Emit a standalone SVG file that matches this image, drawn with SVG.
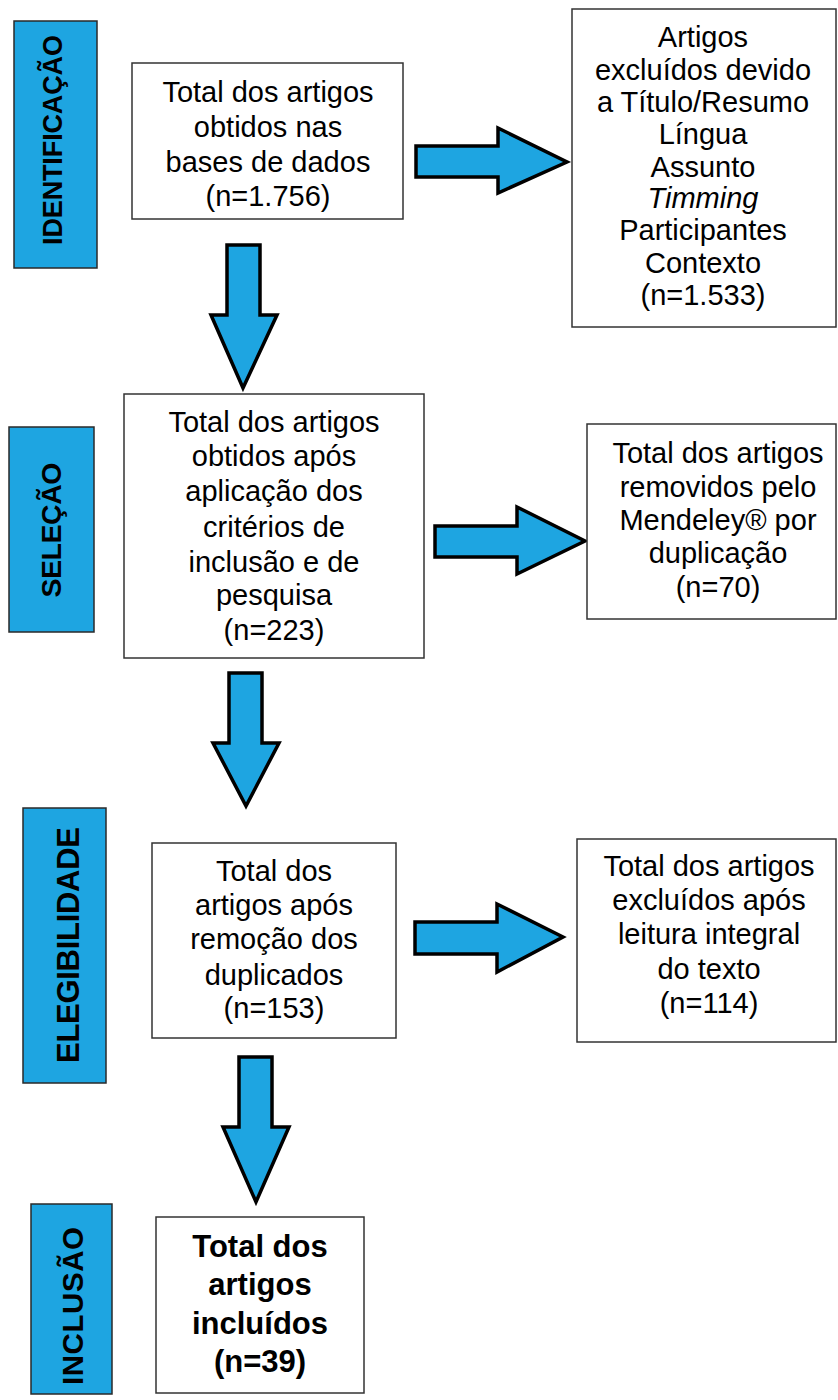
<svg xmlns="http://www.w3.org/2000/svg" width="838" height="1400" viewBox="0 0 838 1400">
<style>
.bg{fill:#ffffff}
.phase{fill:#1ea5e1;stroke:#2a2a2a;stroke-width:1.5}
.ph{font-family:"Liberation Sans",Arial,sans-serif;font-weight:bold;fill:#000;text-anchor:middle}
.box{fill:#ffffff;stroke:#333;stroke-width:1.5}
.t{font-family:"Liberation Sans",Arial,sans-serif;font-size:29px;fill:#000;text-anchor:middle}
.tb{font-family:"Liberation Sans",Arial,sans-serif;font-size:31px;font-weight:bold;fill:#000;text-anchor:middle}
.arrow{fill:#1ea5e1;stroke:#000;stroke-width:3.5;stroke-linejoin:miter}
</style>
<rect class="bg" x="0" y="0" width="838" height="1400"/>

<g id="phase-identificacao">
<rect class="phase" x="14" y="21" width="83" height="247"/>
<text class="ph" font-size="27" textLength="210" transform="translate(62,140) rotate(-90)">IDENTIFICAÇÃO</text>
</g>
<g id="phase-selecao">
<rect class="phase" x="9" y="427" width="85" height="205"/>
<text class="ph" font-size="28.5" textLength="135" transform="translate(61,530) rotate(-90)">SELEÇÃO</text>
</g>
<g id="phase-elegibilidade">
<rect class="phase" x="23" y="808" width="83" height="275"/>
<text class="ph" font-size="31" textLength="236" transform="translate(79,945) rotate(-90)">ELEGIBILIDADE</text>
</g>
<g id="phase-inclusao">
<rect class="phase" x="31" y="1204" width="81" height="190"/>
<text class="ph" font-size="29.5" textLength="158" transform="translate(83,1306) rotate(-90)">INCLUSÃO</text>
</g>

<g id="connectors">
<path class="arrow" d="M416,146 H498 V128 L567,162 L498,193 V177 H416 Z"/>
<path class="arrow" d="M435,526 H517 V507 L585,541 L517,574 V557 H435 Z"/>
<path class="arrow" d="M415,922 H497 V904 L563,937 L497,972 V954 H415 Z"/>
<path class="arrow" d="M227,245 H260 V315 H277 L243,388 L211,315 H227 Z"/>
<path class="arrow" d="M229,673 H262 V743 H279 L246,806 L213,743 H229 Z"/>
<path class="arrow" d="M239,1057 H272 V1127 H289 L256,1202 L223,1127 H239 Z"/>
</g>

<g id="box-total">
<rect class="box" x="132" y="63" width="271" height="156"/>
<text class="t" x="268" y="102">Total dos artigos</text>
<text class="t" x="268" y="137">obtidos nas</text>
<text class="t" x="268" y="172">bases de dados</text>
<text class="t" x="268" y="206">(n=1.756)</text>
</g>

<g id="box-excluidos-titulo">
<rect class="box" x="572" y="9" width="264" height="318"/>
<text class="t" x="703" y="47">Artigos</text>
<text class="t" x="703" y="80">excluídos devido</text>
<text class="t" x="703" y="112">a Título/Resumo</text>
<text class="t" x="703" y="144">Língua</text>
<text class="t" x="703" y="177">Assunto</text>
<text class="t" x="703" y="208" font-style="italic">Timming</text>
<text class="t" x="703" y="240">Participantes</text>
<text class="t" x="703" y="273">Contexto</text>
<text class="t" x="703" y="305">(n=1.533)</text>
</g>

<g id="box-selecao">
<rect class="box" x="124" y="394" width="300" height="264"/>
<text class="t" x="274" y="432">Total dos artigos</text>
<text class="t" x="274" y="466">obtidos após</text>
<text class="t" x="274" y="501">aplicação dos</text>
<text class="t" x="274" y="537">critérios de</text>
<text class="t" x="274" y="572">inclusão e de</text>
<text class="t" x="274" y="605">pesquisa</text>
<text class="t" x="274" y="640">(n=223)</text>
</g>

<g id="box-mendeley">
<rect class="box" x="587" y="424" width="249" height="195"/>
<text class="t" x="718" y="463">Total dos artigos</text>
<text class="t" x="718" y="497">removidos pelo</text>
<text class="t" x="718" y="530">Mendeley® por</text>
<text class="t" x="718" y="563">duplicação</text>
<text class="t" x="718" y="597">(n=70)</text>
</g>

<g id="box-elegibilidade">
<rect class="box" x="152" y="843" width="244" height="195"/>
<text class="t" x="274" y="881">Total dos</text>
<text class="t" x="274" y="915">artigos após</text>
<text class="t" x="274" y="949">remoção dos</text>
<text class="t" x="274" y="985">duplicados</text>
<text class="t" x="274" y="1018">(n=153)</text>
</g>

<g id="box-leitura">
<rect class="box" x="577" y="839" width="259" height="203"/>
<text class="t" x="709" y="876">Total dos artigos</text>
<text class="t" x="709" y="910">excluídos após</text>
<text class="t" x="709" y="944">leitura integral</text>
<text class="t" x="709" y="979">do texto</text>
<text class="t" x="709" y="1013">(n=114)</text>
</g>

<g id="box-incluidos">
<rect class="box" x="156" y="1217" width="208" height="176"/>
<text class="tb" x="260" y="1257">Total dos</text>
<text class="tb" x="260" y="1295">artigos</text>
<text class="tb" x="260" y="1334">incluídos</text>
<text class="tb" x="260" y="1372">(n=39)</text>
</g>
</svg>
